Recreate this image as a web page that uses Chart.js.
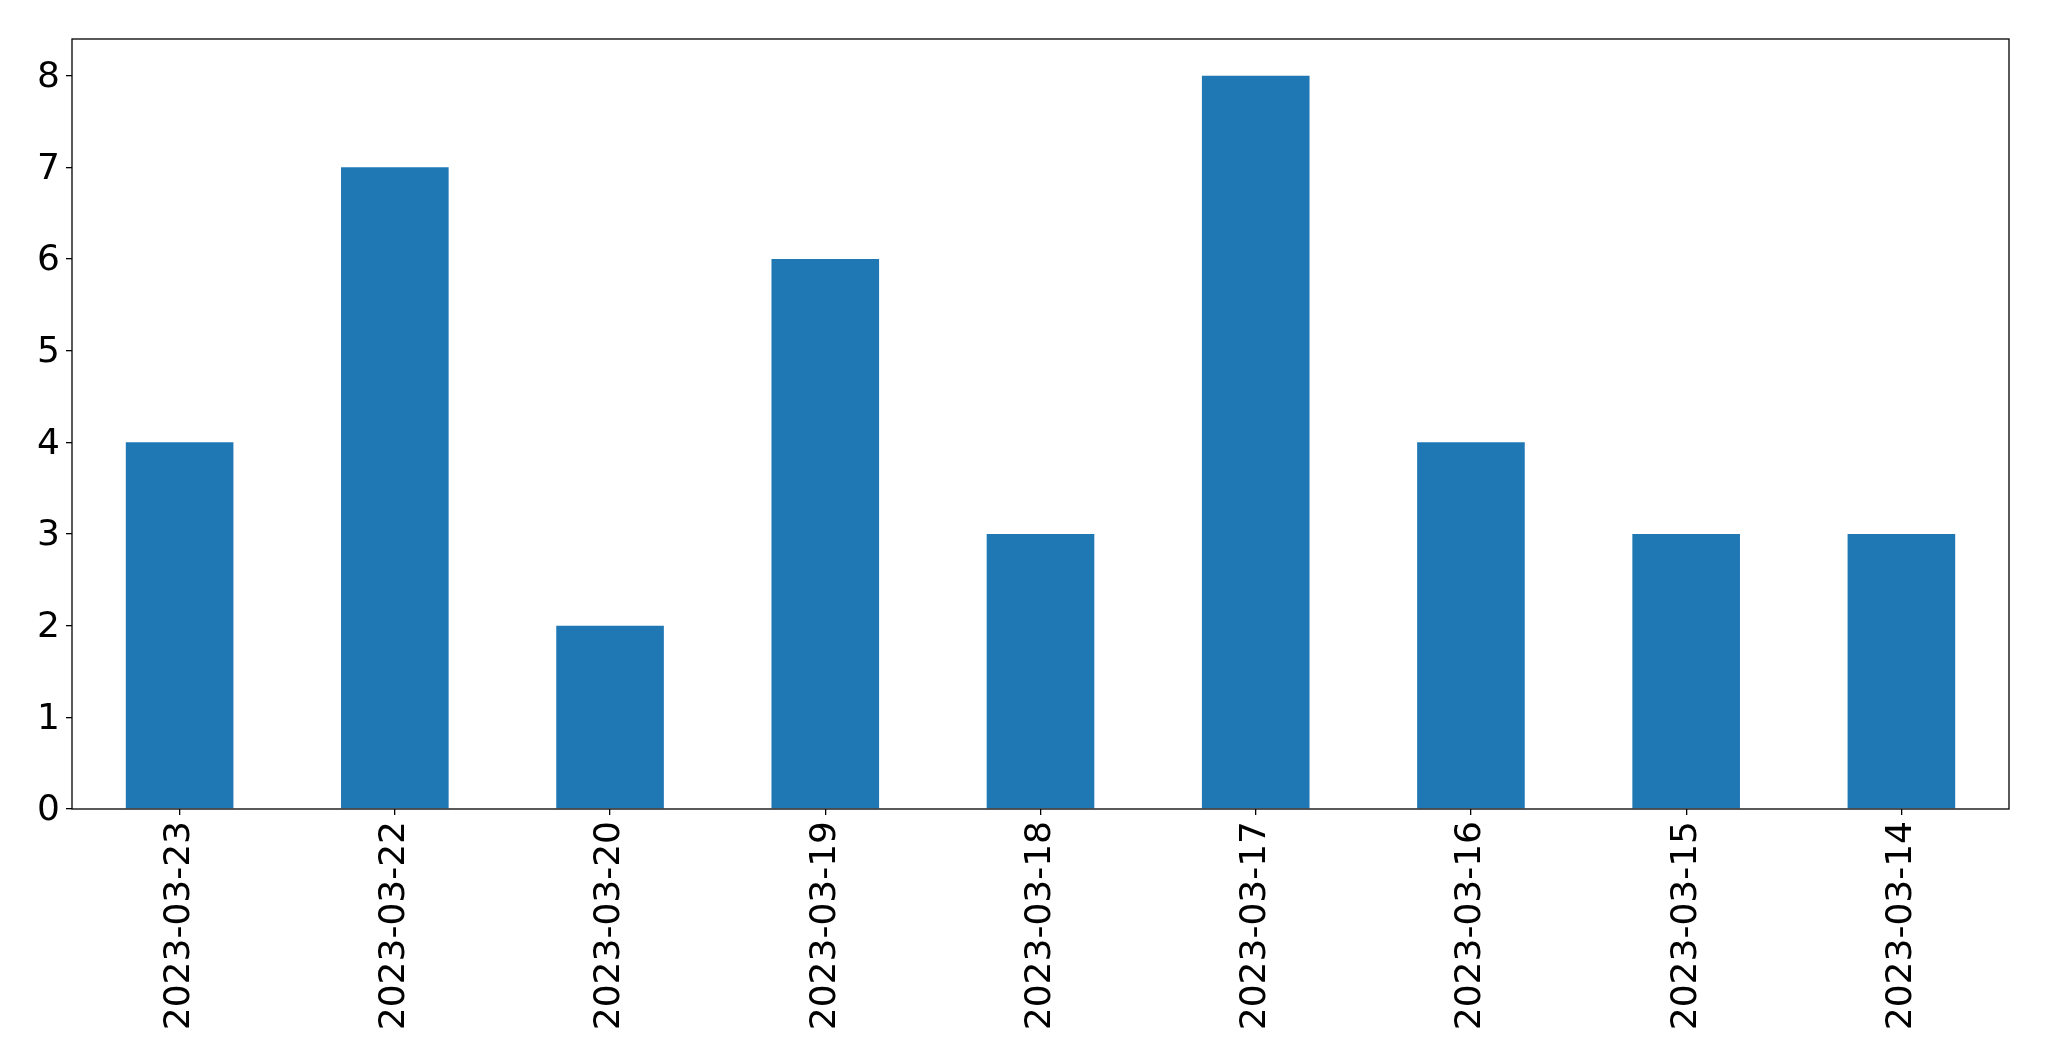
<!DOCTYPE html>
<html>
<head>
<meta charset="utf-8">
<script src="https://cdn.jsdelivr.net/npm/chart.js@4/dist/chart.umd.min.js"></script>
<style>
  html, body { margin: 0; padding: 0; background: #fff; }
  canvas { display: block; }
</style>
</head>
<body>
<canvas id="chartBar" width="2049" height="1061"></canvas>
<script>
const dates = ['2023-03-23', '2023-03-22', '2023-03-20', '2023-03-19', '2023-03-18',
    '2023-03-17', '2023-03-16', '2023-03-15', '2023-03-14']
const counts = [4, 7, 2, 6, 3, 8, 4, 3, 3]
const yTicks = [0, 1, 2, 3, 4, 5, 6, 7, 8]

const FONT = { family: 'DejaVu Sans', size: 36 }

// frame round the plot area, like the matplotlib axes box
const frame = {
    id: 'frame',
    afterDraw(chart) {
        const { ctx, chartArea: a } = chart
        ctx.save()
        ctx.strokeStyle = '#000'
        ctx.lineWidth = 1.3
        ctx.strokeRect(a.left, a.top, a.right - a.left, a.bottom - a.top)
        ctx.restore()
    }
}

let ctx = document.getElementById('chartBar').getContext('2d')

let chart = new Chart(ctx, {
    type: 'bar',
    data: {
        labels: dates,
        datasets: [{
            data: counts,
            backgroundColor: '#1f77b4',
            borderWidth: 0,
            categoryPercentage: 1,
            barPercentage: 0.5,
        }]
    },
    options: {
        responsive: false,
        animation: false,
        layout: { padding: { top: 39, right: 40, left: 0, bottom: 0 } },
        plugins: {
            legend: { display: false },
            tooltip: { enabled: false }
        },
        scales: {
            x: {
                grid: { display: true, drawOnChartArea: false, offset: false, tickLength: 6, color: '#000', lineWidth: 1.3 },
                border: { display: false },
                ticks: {
                    color: '#000',
                    font: FONT,
                    minRotation: 90,
                    maxRotation: 90,
                    padding: 6,
                    autoSkip: false
                },
                afterFit: (axis) => { axis.height = 252 }
            },
            y: {
                min: 0,
                max: 8.4,
                afterBuildTicks: (axis) => { axis.ticks = yTicks.map(v => ({ value: v })) },
                grid: { display: true, drawOnChartArea: false, tickLength: 6, color: '#000', lineWidth: 1.3 },
                border: { display: false },
                ticks: {
                    color: '#000',
                    font: FONT,
                    padding: 6,
                    labelOffset: 2
                },
                afterFit: (axis) => { axis.width = 72 }
            }
        }
    },
    plugins: [frame]
})
</script>
</body>
</html>
